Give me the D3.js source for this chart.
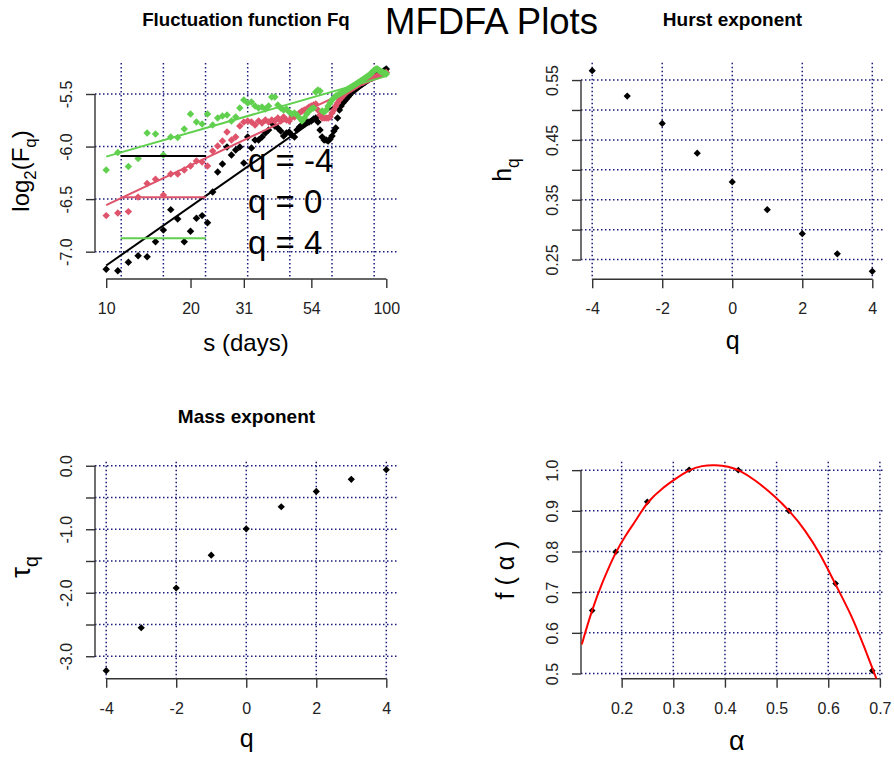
<!DOCTYPE html>
<html>
<head>
<meta charset="utf-8">
<script src="https://cdn.jsdelivr.net/npm/d3@7"></script>
<style>
  body { margin: 0; background: #fff; }
  svg { font-family: "Liberation Sans", Arial, sans-serif; }
</style>
</head>
<body>
<div id="chart"></div>
<script>
var w = 894;
var h = 759;
var FONT = '"Liberation Sans", Arial, sans-serif';

// ---- fluctuation function data (log2 Fq for each scale s) ----
var scales = [10,11,12,13,14,15,16,17,18,19,20,21,22,23,24,25,26,27,28,29,
              30,31,32,33,34,35,36,37,38,39,40,41,42,43,44,45,46,47,48,49,
              50,51,52,53,54,55,56,57,58,59,60,61,62,63,64,65,66,67,68,69,
              70,71,72,73,74,75,76,77,78,79,80,81,82,83,84,85,86,87,88,89,
              90,91,92,93,94,95,96,97,98,99,100];
var fqNeg4 = [-7.167,-7.181,-7.100,-7.038,-7.048,-6.905,-6.795,-6.600,-6.690,-6.905,
              -6.805,-6.681,-6.657,-6.724,-6.433,-6.243,-6.167,-6.005,-6.081,-6.033,
              -6.005,-6.157,-5.910,-6.014,-5.938,-5.938,-5.910,-5.871,-5.843,-5.776,
              -5.805,-5.824,-5.852,-5.900,-5.871,-5.862,-5.890,-5.910,-5.843,-5.814,
              -5.795,-5.786,-5.767,-5.767,-5.757,-5.738,-5.729,-5.767,-5.843,-5.910,
              -5.938,-5.938,-5.948,-5.929,-5.900,-5.852,-5.824,-5.729,-5.652,-5.614,
              -5.586,-5.567,-5.548,-5.529,-5.510,-5.490,-5.471,-5.462,-5.452,-5.438,
              -5.424,-5.414,-5.405,-5.395,-5.386,-5.376,-5.367,-5.357,-5.352,-5.348,
              -5.338,-5.333,-5.329,-5.319,-5.314,-5.310,-5.300,-5.290,-5.281,-5.271,
              -5.262];
var fq0 = [-6.657,-6.633,-6.619,-6.481,-6.352,-6.310,-6.462,-6.262,-6.262,-6.224,
           -6.186,-6.138,-6.148,-6.186,-6.043,-5.995,-5.948,-5.862,-5.938,-5.910,
           -5.805,-5.767,-5.757,-5.767,-5.795,-5.757,-5.776,-5.748,-5.767,-5.748,
           -5.757,-5.729,-5.757,-5.719,-5.748,-5.757,-5.719,-5.719,-5.700,-5.681,
           -5.662,-5.652,-5.643,-5.624,-5.614,-5.605,-5.595,-5.652,-5.700,-5.729,
           -5.729,-5.729,-5.729,-5.719,-5.681,-5.652,-5.614,-5.586,-5.557,-5.538,
           -5.519,-5.500,-5.486,-5.471,-5.462,-5.452,-5.443,-5.433,-5.424,-5.414,
           -5.405,-5.395,-5.390,-5.386,-5.376,-5.371,-5.367,-5.357,-5.352,-5.348,
           -5.343,-5.338,-5.333,-5.329,-5.324,-5.319,-5.314,-5.310,-5.305,-5.300,
           -5.295];
var fq4 = [-6.224,-6.057,-6.190,-6.114,-5.871,-5.881,-6.081,-5.910,-5.914,-5.833,
           -5.690,-5.767,-5.786,-5.690,-5.795,-5.729,-5.710,-5.700,-5.757,-5.719,
           -5.633,-5.557,-5.586,-5.576,-5.614,-5.633,-5.624,-5.643,-5.614,-5.529,
           -5.529,-5.605,-5.633,-5.652,-5.643,-5.671,-5.690,-5.681,-5.700,-5.729,
           -5.757,-5.729,-5.690,-5.662,-5.643,-5.633,-5.481,-5.462,-5.471,-5.662,
           -5.671,-5.652,-5.614,-5.586,-5.557,-5.538,-5.519,-5.510,-5.500,-5.490,
           -5.481,-5.471,-5.462,-5.452,-5.443,-5.433,-5.424,-5.414,-5.405,-5.395,
           -5.386,-5.376,-5.367,-5.357,-5.348,-5.338,-5.329,-5.319,-5.310,-5.290,
           -5.281,-5.271,-5.262,-5.262,-5.271,-5.281,-5.290,-5.290,-5.300,-5.300,
           -5.310];
var fqLabels = ["q = -4", "q = 0", "q = 4"];
var fqColors = ["#000000", "#DF536B", "#61D04F"];
var sTicks = [10, 20, 31, 54, 100];
var log2Grid = [3.5, 4, 4.5, 5, 5.5, 6, 6.5];
var flucTicks = [-7.0, -6.5, -6.0, -5.5];
var flucYLim = [-7.26, -5.205];

// ---- exponents ----
var qVals = [-4, -3, -2, -1, 0, 1, 2, 3, 4];
var qTicks = [-4, -2, 0, 2, 4];
var hurst = [0.5656, 0.5232, 0.4775, 0.4277, 0.3797, 0.3334, 0.2932, 0.2595, 0.2304];
var hurstTicks = [0.25, 0.30, 0.35, 0.40, 0.45, 0.50, 0.55];
var hurstLabels = ["0.25", "0.35", "0.45", "0.55"];
var tau = [-3.227, -2.551, -1.925, -1.408, -0.994, -0.646, -0.405, -0.214, -0.063];
var tauTicks = [-3.0, -2.5, -2.0, -1.5, -1.0, -0.5, 0.0];
var tauLabels = ["-3.0", "-2.0", "-1.0", "0.0"];

// ---- singularity spectrum ----
var alphaPts = [0.143, 0.1884, 0.2496, 0.3307, 0.4259, 0.5238, 0.6143, 0.6853];
var fAlphaPts = [0.655, 0.799, 0.922, 1.001, 1.0, 0.900, 0.721, 0.507];
var alphaCurve = [0.1228, 0.1421, 0.1627, 0.1884, 0.2077, 0.2303, 0.2496, 0.2785, 0.3042, 0.33, 0.3558, 0.3815,
                  0.4072, 0.4265, 0.4587, 0.4973, 0.5263, 0.5552, 0.5842, 0.6131, 0.6454, 0.671, 0.6936];
var fAlphaCurve = [0.5717, 0.655, 0.725, 0.799, 0.840, 0.8813, 0.9224, 0.9555, 0.9785, 1.0008, 1.0114, 1.0131,
                   1.009, 1.001, 0.976, 0.935, 0.898, 0.853, 0.795, 0.721, 0.643, 0.561, 0.4862];
var alphaTicks = [0.2, 0.3, 0.4, 0.5, 0.6, 0.7];
var fAlphaTicks = [0.5, 0.6, 0.7, 0.8, 0.9, 1.0];

// R style 4% axis extension
function rExt(vals) {
    var lo = d3.min(vals), hi = d3.max(vals), d = (hi - lo) * 0.04;
    return [lo - d, hi + d];
}
// plain hyphen minus, like R
var fmt1 = d => d.toFixed(1);
var fmtInt = d => String(d);

var svg = d3.select("#chart")
            .append("svg")
            .attr("width", w)
            .attr("height", h);
svg.append("rect").attr("width", w).attr("height", h).attr("fill", "#fff");

// diamond like R pch 18
var diamond = {
    draw: function(ctx, size) {
        var r = Math.sqrt(size / 2);
        ctx.moveTo(0, -r); ctx.lineTo(r, 0); ctx.lineTo(0, r); ctx.lineTo(-r, 0); ctx.closePath();
    }
};

var GRID = "#1c1c78";

// builds grid + R-like axes for one panel
function panel(o) {
    var g = svg.append("g");
    var x = d3.scaleLinear().domain(o.xDom).range([o.x0, o.x1]);
    var y = d3.scaleLinear().domain(o.yDom).range([o.y1, o.y0]);

    g.selectAll(".vgrid").data(o.xGrid).enter().append("line")
        .attr("x1", d => x(d)).attr("x2", d => x(d))
        .attr("y1", o.y0).attr("y2", o.y1)
        .attr("stroke", GRID).attr("stroke-width", 1.5)
        .attr("stroke-dasharray", "1.5,2.5");
    g.selectAll(".hgrid").data(o.yGrid).enter().append("line")
        .attr("x1", o.x0).attr("x2", o.x1)
        .attr("y1", d => y(d)).attr("y2", d => y(d))
        .attr("stroke", GRID).attr("stroke-width", 1.5)
        .attr("stroke-dasharray", "1.5,2.5");

    var xAxis = d3.axisBottom(x).tickValues(o.xTicks).tickSize(9).tickFormat(o.xFmt);
    var gx = g.append("g")
        .attr("transform", "translate(0," + o.y1 + ")")
        .call(xAxis);
    gx.select(".domain").remove();
    gx.append("line")
        .attr("x1", x(o.xTicks[0])).attr("x2", x(o.xTicks[o.xTicks.length - 1]))
        .attr("stroke", "#333").attr("stroke-width", 1.4);
    gx.selectAll(".tick line").attr("stroke", "#333").attr("stroke-width", 1.4);
    gx.selectAll("text").attr("y", 35).attr("dy", 0)
        .attr("font-size", 16).attr("font-family", FONT).attr("fill", "#222");

    var yAxis = d3.axisLeft(y).tickValues(o.yTicks).tickSize(9).tickFormat(o.yFmt);
    var gy = g.append("g")
        .attr("transform", "translate(" + o.x0 + ",0)")
        .call(yAxis);
    gy.select(".domain").remove();
    gy.append("line")
        .attr("y1", y(o.yTicks[0])).attr("y2", y(o.yTicks[o.yTicks.length - 1]))
        .attr("stroke", "#333").attr("stroke-width", 1.4);
    gy.selectAll(".tick line").attr("stroke", "#333").attr("stroke-width", 1.4);
    gy.selectAll("text")
        .attr("transform", "rotate(-90)")
        .attr("x", 0).attr("y", -23).attr("dy", 0)
        .attr("text-anchor", "middle")
        .attr("font-size", 16).attr("font-family", FONT).attr("fill", "#222");

    return { g: g, x: x, y: y };
}

function dots(g, xs, ys, x, y, col, size) {
    g.selectAll(null).data(xs).enter().append("path")
        .attr("d", d3.symbol().type(diamond).size(size))
        .attr("transform", (d, i) => "translate(" + x(d) + "," + y(ys[i]) + ")")
        .attr("fill", col);
}

function title(txt, cx, by, size, weight) {
    svg.append("text").attr("x", cx).attr("y", by)
        .attr("text-anchor", "middle").attr("font-size", size)
        .attr("font-weight", weight || "normal").attr("fill", "#000")
        .text(txt);
}

// rotated axis label with optional subscripts: parts = [[text, isSub], ...]
function yLabel(parts, bx, cy, size) {
    var t = svg.append("text")
        .attr("transform", "translate(" + bx + "," + cy + ") rotate(-90)")
        .attr("text-anchor", "middle").attr("font-size", size).attr("fill", "#000");
    var shift = 0;
    parts.forEach(function(p) {
        var want = p[1] ? size * 0.3 : 0;
        t.append("tspan").attr("dy", want - shift)
            .attr("font-size", p[1] ? size * 0.7 : size).text(p[0]);
        shift = want;
    });
}

// ---------- panel 1 : fluctuation function ----------
var logS = scales.map(Math.log2);
var p1 = panel({
    x0: 95, x1: 397.5, y0: 63, y1: 279,
    xDom: rExt(logS), yDom: flucYLim,
    xGrid: log2Grid, yGrid: flucTicks,
    xTicks: sTicks.map(Math.log2), xFmt: (d, i) => sTicks[i],
    yTicks: flucTicks, yFmt: fmt1
});
[fqNeg4, fq0, fq4].forEach(function(vals, k) {
    dots(p1.g, logS, vals, p1.x, p1.y, fqColors[k], 28);
    // least squares fit of log2 Fq on log2 s
    var mx = d3.mean(logS), my = d3.mean(vals);
    var sxy = d3.sum(logS, (d, i) => (d - mx) * (vals[i] - my));
    var sxx = d3.sum(logS, d => (d - mx) * (d - mx));
    var b = sxy / sxx, a = my - b * mx;
    var ends = [logS[0], logS[logS.length - 1]];
    p1.g.append("path")
        .datum(ends)
        .attr("d", d3.line().x(d => p1.x(d)).y(d => p1.y(a + b * d)))
        .attr("stroke", fqColors[k]).attr("stroke-width", 2).attr("fill", "none");
});
// legend
var legY = [156, 197.3, 238.3];
fqLabels.forEach(function(lab, k) {
    svg.append("line").attr("x1", 120.7).attr("x2", 206)
        .attr("y1", legY[k]).attr("y2", legY[k])
        .attr("stroke", fqColors[k]).attr("stroke-width", 2);
    svg.append("text").attr("x", 248).attr("y", legY[k] + 15.5)
        .attr("font-size", 33).attr("fill", "#000").text(lab);
});
title("Fluctuation function Fq", 246, 26, 18.7, "bold");
title("s (days)", 246, 351, 24);
yLabel([["log", 0], ["2", 1], ["(F", 0], ["q", 1], [")", 0]], 29, 171, 24);

// ---------- panel 2 : Hurst exponent ----------
var p2 = panel({
    x0: 581, x1: 883.5, y0: 62.7, y1: 279.3,
    xDom: rExt(qVals), yDom: rExt(hurst),
    xGrid: qTicks, yGrid: hurstTicks,
    xTicks: qTicks, xFmt: fmtInt,
    yTicks: hurstTicks, yFmt: d => hurstLabels.indexOf(d.toFixed(2)) >= 0 ? d.toFixed(2) : ""
});
dots(p2.g, qVals, hurst, p2.x, p2.y, "#000", 26);
title("Hurst exponent", 732.5, 26, 19, "bold");
title("q", 732.7, 349, 25);
yLabel([["h", 0], ["q", 1]], 511, 170, 25);

// ---------- panel 3 : Mass exponent ----------
var p3 = panel({
    x0: 95, x1: 397.5, y0: 461.7, y1: 678.7,
    xDom: rExt(qVals), yDom: rExt(tau),
    xGrid: qTicks, yGrid: tauTicks,
    xTicks: qTicks, xFmt: fmtInt,
    yTicks: tauTicks, yFmt: d => tauLabels.indexOf(d.toFixed(1)) >= 0 ? d.toFixed(1) : ""
});
dots(p3.g, qVals, tau, p3.x, p3.y, "#000", 26);
title("Mass exponent", 246.5, 423, 19, "bold");
title("q", 246.7, 747, 25);
yLabel([["\u03C4", 0], ["q", 1]], 30, 567, 28);

// ---------- panel 4 : singularity spectrum ----------
var p4 = panel({
    x0: 581, x1: 883.5, y0: 461.7, y1: 678.7,
    xDom: rExt(alphaPts), yDom: rExt(fAlphaPts),
    xGrid: alphaTicks, yGrid: fAlphaTicks,
    xTicks: alphaTicks, xFmt: fmt1,
    yTicks: fAlphaTicks, yFmt: fmt1
});
svg.append("clipPath").attr("id", "clip4").append("rect")
    .attr("x", 581).attr("y", 461.7).attr("width", 302.5).attr("height", 217);
dots(p4.g, alphaPts, fAlphaPts, p4.x, p4.y, "#000", 22);
p4.g.append("path")
    .datum(alphaCurve)
    .attr("clip-path", "url(#clip4)")
    .attr("d", d3.line().x(d => p4.x(d)).y((d, i) => p4.y(fAlphaCurve[i])).curve(d3.curveBasis))
    .attr("stroke", "#FF0000").attr("stroke-width", 2).attr("fill", "none");
title("\u03B1", 736.7, 750, 27);
yLabel([["f ( \u03B1 )", 0]], 514, 570, 25);

// main title
title("MFDFA Plots", 491.5, 34, 36.5);
</script>
</body>
</html>
